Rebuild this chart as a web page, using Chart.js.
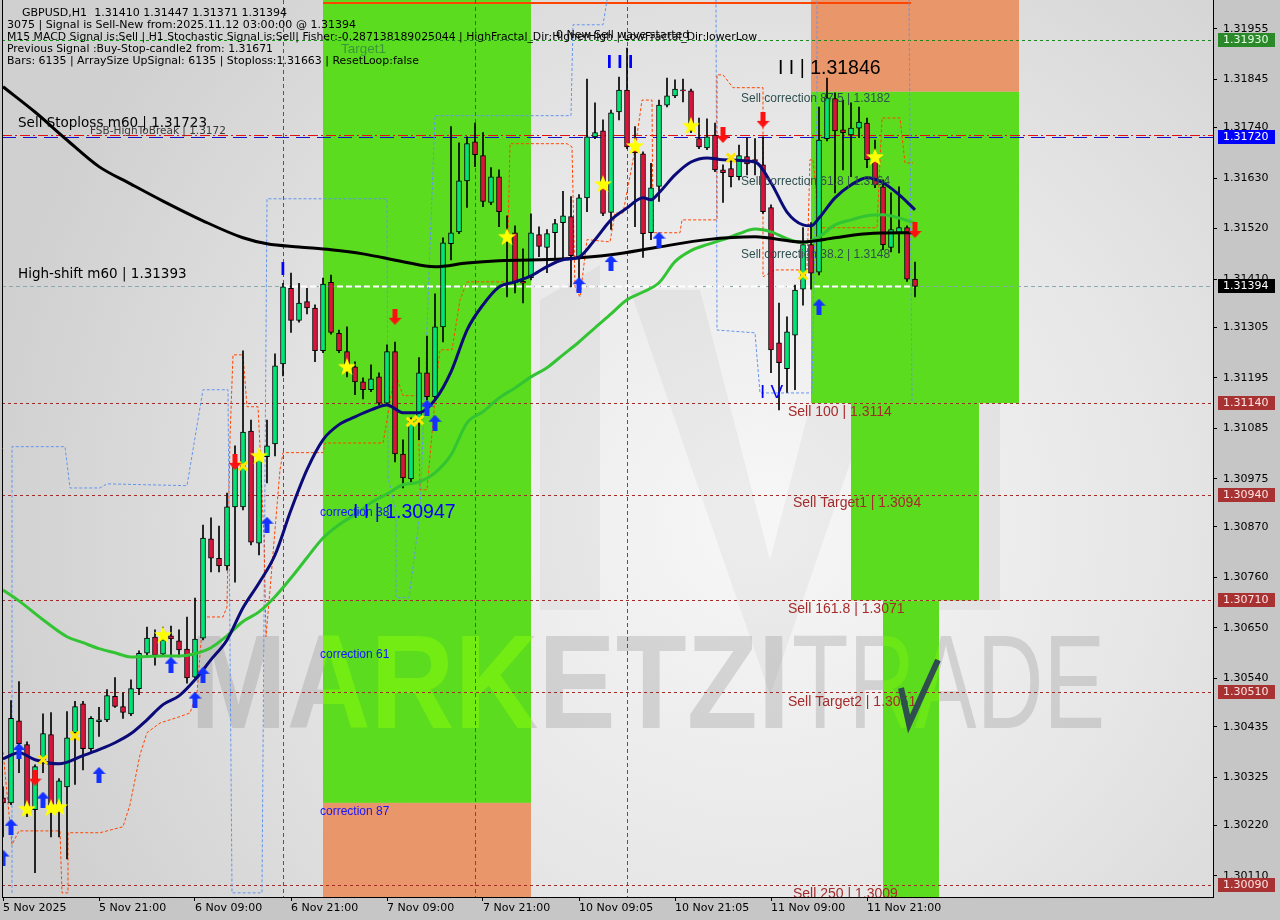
<!DOCTYPE html>
<html lang="en">
<head>
<meta charset="UTF-8">
<title>GBPUSD,H1</title>
<script src="https://cdn.jsdelivr.net/npm/chart.js"></script>
<style>
  html, body { margin: 0; padding: 0; background: #c6c6c6; }
  canvas { display: block; }
</style>
</head>
<body>
<canvas id="chart" width="1280" height="920"></canvas>
<script>
// ---- data ----
const xTickIdx = [0, 12, 24, 36, 48, 60, 72, 84, 96, 108];
const xTickText = ['5 Nov 2025', '5 Nov 21:00', '6 Nov 09:00', '6 Nov 21:00', '7 Nov 09:00',
                   '7 Nov 21:00', '10 Nov 09:05', '10 Nov 21:05', '11 Nov 09:00', '11 Nov 21:00'];
const yTicks = [1.31955, 1.31845, 1.31740, 1.31630, 1.31520, 1.31410, 1.31305, 1.31195, 1.31085,
                1.30975, 1.30870, 1.30760, 1.30650, 1.30540, 1.30435, 1.30325, 1.30220, 1.30110];

const opens = [
  1.30280,1.30269,1.30448,1.30396,1.30254,1.30363,1.30418,1.30261,1.30304,1.30422,
  1.30485,1.30387,1.30446,1.30450,1.30501,1.30479,1.30463,1.30518,1.30595,1.30630,
  1.30593,1.30633,1.30622,1.30604,1.30543,1.30628,1.30844,1.30802,1.30785,1.30914,
  1.30914,1.31079,1.30835,1.31023,1.31051,1.31225,1.31390,1.31320,1.31361,1.31347,
  1.31254,1.31403,1.31292,1.31252,1.31219,1.31186,1.31169,1.31197,1.31140,1.31252,
  1.31029,1.30975,1.31103,1.31206,1.31154,1.31306,1.31487,1.31513,1.31624,1.31709,
  1.31679,1.31577,1.31633,1.31496,1.31511,1.31405,1.31413,1.31507,1.31479,1.31511,
  1.31533,1.31546,1.31459,1.31587,1.31720,1.31733,1.31555,1.31774,1.31822,1.31696,
  1.31683,1.31511,1.31612,1.31789,1.31809,1.31822,1.31820,1.31716,1.31696,1.31724,
  1.31648,1.31651,1.31633,1.31677,1.31670,1.31659,1.31566,1.31271,1.31215,1.31288,
  1.31388,1.31485,1.31425,1.31716,1.31803,1.31735,1.31724,1.31739,1.31750,1.31670,
  1.31611,1.31479,1.31511,1.31522,1.31410];
const highs = [
  1.30304,1.30492,1.30533,1.30402,1.30352,1.30463,1.30466,1.30322,1.30468,1.30490,
  1.30490,1.30457,1.30477,1.30516,1.30542,1.30509,1.30537,1.30600,1.30652,1.30646,
  1.30652,1.30654,1.30646,1.30674,1.30715,1.30874,1.30890,1.30872,1.30944,1.31047,
  1.31254,1.31103,1.31027,1.31103,1.31247,1.31401,1.31423,1.31401,1.31390,1.31354,
  1.31412,1.31419,1.31299,1.31306,1.31230,1.31195,1.31223,1.31206,1.31267,1.31273,
  1.31060,1.31108,1.31239,1.31286,1.31378,1.31500,1.31742,1.31707,1.31720,1.31750,
  1.31729,1.31653,1.31648,1.31548,1.31526,1.31476,1.31552,1.31524,1.31518,1.31540,
  1.31601,1.31590,1.31594,1.31846,1.31794,1.31757,1.31778,1.31850,1.31913,1.31742,
  1.31687,1.31662,1.31800,1.31848,1.31844,1.31846,1.31824,1.31761,1.31759,1.31750,
  1.31659,1.31670,1.31702,1.31718,1.31716,1.31720,1.31572,1.31358,1.31328,1.31397,
  1.31522,1.31533,1.31785,1.31848,1.31816,1.31800,1.31794,1.31785,1.31761,1.31713,
  1.31626,1.31598,1.31611,1.31526,1.31447];
const lows = [
  1.30195,1.30265,1.30335,1.30239,1.30117,1.30335,1.30195,1.30195,1.30147,1.30309,
  1.30341,1.30381,1.30414,1.30446,1.30477,1.30453,1.30459,1.30505,1.30591,1.30569,
  1.30589,1.30587,1.30587,1.30530,1.30541,1.30624,1.30772,1.30772,1.30776,1.30750,
  1.30907,1.30831,1.30809,1.30966,1.31025,1.31199,1.31294,1.31316,1.31334,1.31230,
  1.31250,1.31290,1.31250,1.31197,1.31158,1.31149,1.31165,1.31136,1.31136,1.31012,
  1.30955,1.30962,1.31060,1.31147,1.31147,1.31273,1.31452,1.31509,1.31566,1.31655,
  1.31568,1.31572,1.31524,1.31371,1.31380,1.31358,1.31408,1.31459,1.31424,1.31452,
  1.31452,1.31393,1.31408,1.31557,1.31716,1.31548,1.31518,1.31757,1.31694,1.31524,
  1.31457,1.31496,1.31579,1.31785,1.31805,1.31796,1.31729,1.31694,1.31692,1.31644,
  1.31577,1.31611,1.31626,1.31637,1.31637,1.31553,1.31206,1.31125,1.31163,1.31169,
  1.31353,1.31388,1.31419,1.31711,1.31598,1.31648,1.31633,1.31718,1.31653,1.31609,
  1.31474,1.31469,1.31467,1.31405,1.31371];
const closes = [
  1.30269,1.30453,1.30398,1.30259,1.30348,1.30420,1.30261,1.30317,1.30411,1.30479,
  1.30387,1.30453,1.30450,1.30503,1.30479,1.30466,1.30518,1.30595,1.30628,1.30591,
  1.30624,1.30626,1.30602,1.30541,1.30626,1.30846,1.30802,1.30785,1.30914,1.31001,
  1.31077,1.30837,1.31023,1.31047,1.31221,1.31393,1.31320,1.31358,1.31347,1.31254,
  1.31399,1.31294,1.31254,1.31208,1.31186,1.31169,1.31193,1.31140,1.31252,1.31029,
  1.30977,1.31103,1.31206,1.31154,1.31306,1.31489,1.31511,1.31624,1.31705,1.31681,
  1.31579,1.31633,1.31557,1.31505,1.31402,1.31401,1.31511,1.31481,1.31509,1.31531,
  1.31548,1.31461,1.31587,1.31720,1.31729,1.31553,1.31772,1.31822,1.31698,1.31685,
  1.31509,1.31609,1.31789,1.31809,1.31824,1.31820,1.31733,1.31698,1.31720,1.31648,
  1.31642,1.31633,1.31679,1.31661,1.31668,1.31557,1.31256,1.31228,1.31295,1.31386,
  1.31485,1.31423,1.31713,1.31805,1.31733,1.31729,1.31739,1.31752,1.31670,1.31615,
  1.31485,1.31518,1.31522,1.31410,1.31394];

// moving averages, sampled along the drawn curves
const maSlowIdx = [0,4,8,12,16,20,25,30,33,37,41,45,50,54,58,62,70,76,82,88,94,100,104,108,114];
const maSlow = [1.31829,1.31774,1.31713,1.31655,1.31617,1.31580,1.31537,1.31500,1.31487,1.31480,
  1.31474,1.31465,1.31448,1.31437,1.31445,1.31450,1.31454,1.31463,1.31480,1.31496,1.31502,
  1.31491,1.31500,1.31509,1.31511];
const maFastIdx = [0,2,4,7,10,12,14,16,18,20,22,24,26,28,30,32,34,36,38,40,42,44,46,48,50,52,54,
  56,58,60,62,64,66,68,70,72,74,76,78,80,81,82,84,86,88,90,94,96,98,100,101,102,104,106,108,110,112,114];
const maFast = [1.30365,1.30378,1.30363,1.30354,1.30372,1.30385,1.30400,1.30420,1.30450,1.30483,
  1.30502,1.30537,1.30581,1.30624,1.30694,1.30748,1.30809,1.30907,1.30995,1.31060,1.31093,1.31110,
  1.31125,1.31136,1.31119,1.31119,1.31147,1.31208,1.31299,1.31354,1.31393,1.31404,1.31417,1.31437,
  1.31452,1.31458,1.31496,1.31539,1.31565,1.31587,1.31583,1.31598,1.31637,1.31665,1.31674,1.31670,
  1.31665,1.31620,1.31556,1.31528,1.31526,1.31543,1.31587,1.31615,1.31631,1.31620,1.31594,1.31561];
const maMidIdx = [0,2,5,8,10,12,14,16,20,22,24,26,28,30,32,34,36,38,40,42,44,46,48,50,52,54,56,58,
  60,62,64,66,68,70,72,74,76,78,80,82,84,86,88,90,92,94,96,98,100,102,104,106,108,110,112,114];
const maMid = [1.30733,1.30709,1.30668,1.30631,1.30618,1.30605,1.30596,1.30587,1.30589,1.30589,
  1.30594,1.30607,1.30633,1.30664,1.30685,1.30718,1.30759,1.30803,1.30846,1.30875,1.30897,1.30923,
  1.30942,1.30962,1.30968,1.30988,1.31027,1.31097,1.31121,1.31151,1.31173,1.31197,1.31217,1.31245,
  1.31273,1.31304,1.31334,1.31365,1.31382,1.31402,1.31448,1.31472,1.31485,1.31496,1.31509,1.31519,
  1.31513,1.31498,1.31489,1.31502,1.31528,1.31539,1.31548,1.31550,1.31543,1.31532];

// dashed envelope lines (corner points)
const blueBandIdx = [1.125,1.125,7.75,8.375,12.125,13,23,25,28.125,28.625,32.375,33,48,48.125,49.125,
  49.125,50.75,52.125,54,71,71.25,75,75.625,89.125,89.25,94,94.625,101.125,101.75,101.75,113.25,113.625];
const blueBand = [1.30073,1.31045,1.31045,1.30955,1.30955,1.30964,1.30960,1.31169,1.31169,1.30073,
  1.30073,1.31585,1.31585,1.30979,1.30901,1.30716,1.30716,1.30901,1.31766,1.31766,1.31964,1.31964,
  1.3203,1.3203,1.31299,1.31293,1.31162,1.31162,1.31785,1.3203,1.3203,1.31141];
const orangeBandIdx = [0,1.125,2,7.125,7.375,8.125,8.125,12.125,15,15.875,17.125,18,19.625,22.125,
  23.375,24.25,25,27.5,28,28.375,28.75,30,30.5,31.875,32.125,32.625,32.875,33.375,34.625,35,40,40.25,
  47.5,48,49,50,51.875,52.125,53,54.25,54.625,56.125,57.125,58,63,63.375,70.5,71.125,71.5,72.125,73,
  75.875,76.5,77.5,79,79.875,81.125,81.25,84.625,84.875,89.25,89.25,90,91.25,95,95,96.5,100.5,
  100.875,101.25,102.125,109.25,109.875,112.125,112.75,113.75];
const orangeBand = [1.30380,1.30178,1.30208,1.30208,1.30073,1.30073,1.30204,1.30204,1.30217,1.30265,
  1.30374,1.30422,1.30443,1.30457,1.30465,1.30509,1.30674,1.30674,1.30696,1.31066,1.31245,1.31245,
  1.31132,1.31132,1.31045,1.30842,1.30631,1.30733,1.30995,1.31032,1.31032,1.31053,1.31053,1.31103,
  1.31208,1.31156,1.31156,1.30951,1.30951,1.31197,1.31256,1.31256,1.31365,1.31404,1.31404,1.31705,
  1.31705,1.31698,1.31393,1.31371,1.31496,1.31491,1.31554,1.31554,1.31692,1.31800,1.31800,1.31511,
  1.31511,1.31539,1.31539,1.31855,1.31855,1.31827,1.31827,1.31415,1.31430,1.31430,1.31670,1.31670,
  1.31522,1.31522,1.31761,1.31761,1.31663,1.31663];

// signal markers
const upIdx = [0,1,2,5,12,21,24,25,33,53,54,72,76,82,102];
const upPrice = [1.30150,1.30217,1.30382,1.30276,1.30330,1.30570,1.30494,1.30548,1.30875,1.31130,
  1.31097,1.31397,1.31445,1.31496,1.31350];
const downIdx = [4,29,49,90,95,114];
const downPrice = [1.30324,1.31012,1.31328,1.31724,1.31757,1.31517];
const starIdx = [3,6,7,20,32,43,63,75,79,86,109];
const starPrice = [1.30256,1.30258,1.30260,1.30635,1.31025,1.31219,1.31502,1.31617,1.31700,1.31744,1.31676];
const crossIdx = [5,9,30,51,52,91,100];
const crossPrice = [1.30363,1.30415,1.31003,1.31099,1.31103,1.31674,1.31419];

// levels and boxes
const target1Level = 1.31930, slLevel = 1.31723, fsbLevel = 1.31720, shiftLevel = 1.31394;
const sellLevels = [1.31140, 1.30940, 1.30710, 1.30510, 1.30090];
const magentaIdx = [35, 59, 78];
const zoneFrom = [40, 40, 101, 101, 106, 110];
const zoneTo = [66, 66, 127, 127, 122, 117];
const zoneTop = [1.3203, 1.30269, 1.3203, 1.31818, 1.3114, 1.3071];
const zoneBottom = [1.30269, 1.2999, 1.31818, 1.3114, 1.3071, 1.2999];
const zoneKind = ['g', 'o', 'o', 'g', 'g', 'g'];

// ---- drawing ----
const idx = opens.map((_, i) => i);
const bullish = idx.map(i => closes[i] >= opens[i]);

function sprite(w, h, draw) {
  const c = document.createElement('canvas');
  c.width = w; c.height = h;
  draw(c.getContext('2d'));
  return c;
}
const upImg = sprite(13, 16, g => {
  g.fillStyle = '#1432ff';
  g.beginPath();
  g.moveTo(6.5, 0); g.lineTo(13, 7); g.lineTo(9, 7); g.lineTo(9, 16);
  g.lineTo(4, 16); g.lineTo(4, 7); g.lineTo(0, 7); g.closePath(); g.fill();
});
const downImg = sprite(13, 16, g => {
  g.fillStyle = '#ff1010';
  g.beginPath();
  g.moveTo(6.5, 16); g.lineTo(13, 9); g.lineTo(9, 9); g.lineTo(9, 0);
  g.lineTo(4, 0); g.lineTo(4, 9); g.lineTo(0, 9); g.closePath(); g.fill();
});
const starImg = sprite(20, 20, g => {
  g.fillStyle = '#ffff00';
  g.beginPath();
  for (let k = 0; k < 10; k++) {
    const r = k % 2 ? 3.9 : 9.5;
    const a = -Math.PI / 2 + k * Math.PI / 5;
    g.lineTo(10 + r * Math.cos(a), 10.5 + r * Math.sin(a));
  }
  g.closePath(); g.fill();
});

const pts = (xs, ys) => xs.map((x, k) => ({ x: x, y: ys[k] }));

const FONT = 'DejaVu Sans';

// text labels drawn on the chart: [text, candle index, price, font, colour, align]
const notes = [
  ['Sell Stoploss m60 | 1.31723', 1.875, 1.31750, '13.5px DejaVu Sans', '#000', 'left'],
  ['FSB-HighToBreak | 1.3172', 10.875, 1.31733, '10.5px DejaVu Sans', '#3a3a3a', 'left'],
  ['High-shift m60 | 1.31393', 1.875, 1.31419, '13.5px DejaVu Sans', '#000', 'left'],
  ['Sell correction 87.5 | 1.3182', 92.25, 1.31803, '12px Liberation Sans', '#2f4f4f', 'left'],
  ['Sell correction 61.8 | 1.3164', 92.25, 1.31622, '12px Liberation Sans', '#2f4f4f', 'left'],
  ['Sell correction 38.2 | 1.3148', 92.25, 1.31463, '12px Liberation Sans', '#2f4f4f', 'left'],
  ['I I | 1.31846', 96.875, 1.31868, '19.5px Liberation Sans', '#000', 'left'],
  ['I I I', 77.125, 1.31881, 'bold 19px Liberation Sans', '#0000ff', 'center'],
  ['I', 35, 1.31430, 'bold 19px Liberation Sans', '#0000ff', 'center'],
  ['I V', 94.625, 1.31163, '19px Liberation Sans', '#0000ff', 'left'],
  ['Sell 100 | 1.3114', 98.125, 1.31121, '14px Liberation Sans', '#a52a2a', 'left'],
  ['Sell Target1 | 1.3094', 98.75, 1.30921, '14px Liberation Sans', '#a52a2a', 'left'],
  ['Sell 161.8 | 1.3071', 98.125, 1.30690, '14px Liberation Sans', '#a52a2a', 'left'],
  ['Sell Target2 | 1.3051', 98.125, 1.30489, '14px Liberation Sans', '#a52a2a', 'left'],
  ['Sell 250 | 1.3009', 98.75, 1.30071, '14px Liberation Sans', '#a52a2a', 'left'],
  ['correction 38', 39.625, 1.30901, '12px Liberation Sans', '#1414ff', 'left'],
  ['I I | 1.30947', 43.75, 1.30901, '19.5px Liberation Sans', '#0000ff', 'left'],
  ['correction 61', 39.625, 1.30592, '12px Liberation Sans', '#1414ff', 'left'],
  ['correction 87', 39.625, 1.30250, '12px Liberation Sans', '#1414ff', 'left'],
  ['Target1', 42.25, 1.31911, '13.5px Liberation Sans', '#3a963a', 'left'],
  ['0 New Sell wave started', 69.125, 1.31942, '11px DejaVu Sans', '#000', 'left']
];

const header = [
  ['GBPUSD,H1  1.31410 1.31447 1.31371 1.31394', 22, 13, 265],
  ['3075 | Signal is Sell-New from:2025.11.12 03:00:00 @ 1.31394', 7, 25, 349],
  ['M15 MACD Signal is:Sell | H1 Stochastic Signal is:Sell| Fisher:-0.287138189025044 | HighFractal_Dir:HigherHigh | LowFractal_Dir:lowerLow', 7, 37, 750],
  ['Previous Signal :Buy-Stop-candle2 from: 1.31671', 7, 49, 266],
  ['Bars: 6135 | ArraySize UpSignal: 6135 | Stoploss:1.31663 | ResetLoop:false', 7, 61, 412]
];

const axisBoxes = [
  [target1Level, '#2a8a2a', '#e8ffe8'],
  [fsbLevel, '#0000ff', '#ffffff'],
  [shiftLevel, '#000000', '#ffffff'],
  [sellLevels[0], '#a83232', '#ffe4e4'],
  [sellLevels[1], '#a83232', '#ffe4e4'],
  [sellLevels[2], '#a83232', '#ffe4e4'],
  [sellLevels[3], '#a83232', '#ffe4e4'],
  [sellLevels[4], '#a83232', '#ffe4e4']
];

function hLine(ctx, a, y, color, dash, width) {
  ctx.save();
  ctx.strokeStyle = color; ctx.lineWidth = width || 1; ctx.setLineDash(dash);
  ctx.beginPath(); ctx.moveTo(a.left, Math.round(y) + 0.5); ctx.lineTo(a.right, Math.round(y) + 0.5); ctx.stroke();
  ctx.restore();
}

function watermark(ctx, fillBold, fillThin) {
  ctx.save();
  ctx.textBaseline = 'alphabetic';
  ctx.textAlign = 'left';
  ctx.font = 'bold 133px Liberation Sans';
  let w = ctx.measureText('MARKETZI').width;
  ctx.save(); ctx.translate(190, 728); ctx.scale(600 / w, 1);
  ctx.fillStyle = fillBold; ctx.fillText('MARKETZI', 0, 0); ctx.restore();
  ctx.font = '133px Liberation Sans';
  w = ctx.measureText('TRADE').width;
  ctx.save(); ctx.translate(792, 728); ctx.scale(313 / w, 1);
  ctx.fillStyle = fillThin; ctx.fillText('TRADE', 0, 0); ctx.restore();
  ctx.restore();
}

function logoShape(ctx) {
  ctx.save();
  ctx.fillStyle = 'rgba(0,0,0,0.04)';
  ctx.beginPath();
  ctx.moveTo(540, 300); ctx.lineTo(600, 265); ctx.lineTo(600, 610); ctx.lineTo(540, 610); ctx.closePath();
  ctx.moveTo(630, 290); ctx.lineTo(700, 290); ctx.lineTo(770, 560); ctx.lineTo(840, 290);
  ctx.lineTo(910, 290); ctx.lineTo(770, 695); ctx.closePath();
  ctx.moveTo(935, 290); ctx.lineTo(1000, 255); ctx.lineTo(1000, 610); ctx.lineTo(935, 610); ctx.closePath();
  ctx.fill();
  ctx.restore();
}

const chartPlugin = {
  id: 'mtChart',
  beforeDraw(chart) {
    const { ctx, chartArea: a } = chart;
    ctx.save();
    ctx.fillStyle = '#c6c6c6';
    ctx.fillRect(0, 0, chart.width, chart.height);
    const g = ctx.createRadialGradient(760, 520, 30, 760, 520, 780);
    g.addColorStop(0, '#f6f6f6');
    g.addColorStop(0.5, '#e6e6e6');
    g.addColorStop(1, '#d0d0d0');
    ctx.fillStyle = g;
    ctx.fillRect(a.left, a.top, a.right - a.left, a.bottom - a.top);
    ctx.restore();
  },
  beforeDatasetsDraw(chart) {
    const { ctx, chartArea: a, scales: { x, y } } = chart;
    ctx.save();
    ctx.beginPath(); ctx.rect(a.left, a.top, a.right - a.left, a.bottom - a.top); ctx.clip();

    logoShape(ctx);
    watermark(ctx, 'rgba(110,110,110,0.22)', 'rgba(110,110,110,0.22)');

    // zones
    const rects = [];
    for (let k = 0; k < zoneFrom.length; k++) {
      const x0 = x.getPixelForValue(zoneFrom[k]), x1 = x.getPixelForValue(zoneTo[k]);
      const y0 = y.getPixelForValue(zoneTop[k]), y1 = y.getPixelForValue(zoneBottom[k]);
      ctx.fillStyle = zoneKind[k] === 'g' ? '#5cdc1f' : '#e8966a';
      ctx.fillRect(x0, y0, x1 - x0, y1 - y0);
      if (zoneKind[k] === 'g') rects.push([x0, y0, x1 - x0, y1 - y0]);
    }
    // watermark letters show brighter over the green zones
    ctx.save();
    ctx.beginPath();
    rects.forEach(r => ctx.rect(r[0], r[1], r[2], r[3]));
    ctx.clip();
    watermark(ctx, '#72ec12', '#6be616');
    ctx.restore();

    // top orange line over the zones
    ctx.strokeStyle = '#ff4500'; ctx.lineWidth = 2;
    ctx.beginPath();
    ctx.moveTo(x.getPixelForValue(40), 3); ctx.lineTo(x.getPixelForValue(113.5), 3); ctx.stroke();

    // horizontal levels
    hLine(ctx, a, y.getPixelForValue(target1Level), '#1a8a1a', [3, 3]);
    hLine(ctx, a, y.getPixelForValue(slLevel), '#e01010', [10, 3, 2, 3]);
    hLine(ctx, a, y.getPixelForValue(fsbLevel), '#1010d0', [14, 7]);
    hLine(ctx, a, y.getPixelForValue(shiftLevel), '#8aabab', [4, 3]);
    ctx.save();
    ctx.strokeStyle = '#ffffff'; ctx.setLineDash([6, 3]);
    const ys = Math.round(y.getPixelForValue(shiftLevel)) + 0.5;
    ctx.beginPath(); ctx.moveTo(x.getPixelForValue(35), ys); ctx.lineTo(x.getPixelForValue(114), ys); ctx.stroke();
    ctx.restore();
    sellLevels.forEach(v => hLine(ctx, a, y.getPixelForValue(v), '#a52a2a', [3, 3]));

    // vertical separators
    ctx.strokeStyle = '#c71585'; ctx.lineWidth = 1; ctx.setLineDash([4, 3]);
    magentaIdx.forEach(v => {
      const px = Math.round(x.getPixelForValue(v)) + 0.5;
      ctx.beginPath(); ctx.moveTo(px, a.top); ctx.lineTo(px, a.bottom); ctx.stroke();
    });
    ctx.restore();
  },
  afterDatasetsDraw(chart) {
    const { ctx, chartArea: a, scales: { x, y } } = chart;
    ctx.save();
    ctx.beginPath(); ctx.rect(a.left, a.top, a.right - a.left, a.bottom - a.top); ctx.clip();
    ctx.textBaseline = 'middle';
    notes.forEach(n => {
      ctx.font = n[3]; ctx.fillStyle = n[4]; ctx.textAlign = n[5];
      ctx.fillText(n[0], x.getPixelForValue(n[1]), y.getPixelForValue(n[2]));
    });
    // logo tick mark of the watermark
    ctx.strokeStyle = '#2f4f4f'; ctx.lineWidth = 6; ctx.setLineDash([]);
    ctx.beginPath(); ctx.moveTo(901, 688); ctx.lineTo(909, 724); ctx.lineTo(938, 660); ctx.stroke();
    ctx.restore();
  },
  afterDraw(chart) {
    const { ctx, chartArea: a, scales: { y } } = chart;
    ctx.save();
    // left frame
    ctx.strokeStyle = '#000'; ctx.lineWidth = 1;
    ctx.beginPath(); ctx.moveTo(a.left + 0.5, 0); ctx.lineTo(a.left + 0.5, a.bottom); ctx.stroke();
    // header
    ctx.font = '11px ' + FONT; ctx.fillStyle = '#000'; ctx.textBaseline = 'middle'; ctx.textAlign = 'left';
    header.forEach(h => {
      const w = ctx.measureText(h[0]).width;
      ctx.save(); ctx.translate(h[1], h[2]); ctx.scale(h[3] / w, 1); ctx.fillText(h[0], 0, 0); ctx.restore();
    });
    // price boxes on the axis
    axisBoxes.forEach(b => {
      const py = Math.round(y.getPixelForValue(b[0]));
      ctx.fillStyle = b[1];
      ctx.fillRect(a.right + 5, py - 7, 57, 14);
      ctx.fillStyle = b[2];
      ctx.fillText(b[0].toFixed(5), a.right + 10, py + 0.5);
    });
    ctx.restore();
  }
};

new Chart(document.getElementById('chart'), {
  type: 'bar',
  data: {
    datasets: [
      { type: 'line', data: pts(blueBandIdx, blueBand), borderColor: '#6495ed', borderWidth: 1,
        borderDash: [3, 2], pointRadius: 0, tension: 0, order: 12 },
      { type: 'line', data: pts(orangeBandIdx, orangeBand), borderColor: '#ff4500', borderWidth: 1,
        borderDash: [3, 2], pointRadius: 0, tension: 0, order: 11 },
      { data: idx.map(i => ({ x: i, y: [lows[i], highs[i]] })), backgroundColor: '#000',
        barThickness: 1, grouped: false, order: 10 },
      { data: idx.map(i => ({ x: i, y: [opens[i], closes[i]] })),
        backgroundColor: idx.map(i => bullish[i] ? '#00e676' : '#dc143c'),
        borderColor: '#000', borderWidth: 1, borderSkipped: false, minBarLength: 1,
        barThickness: 5, grouped: false, order: 9 },
      { type: 'line', data: pts(maMidIdx, maMid), borderColor: '#33c433', borderWidth: 3,
        pointRadius: 0, cubicInterpolationMode: 'monotone', order: 5 },
      { type: 'line', data: pts(maSlowIdx, maSlow), borderColor: '#000000', borderWidth: 3,
        pointRadius: 0, cubicInterpolationMode: 'monotone', order: 4 },
      { type: 'line', data: pts(maFastIdx, maFast), borderColor: '#0a0a78', borderWidth: 3,
        pointRadius: 0, cubicInterpolationMode: 'monotone', order: 3 },
      { type: 'scatter', data: pts(upIdx, upPrice), pointStyle: upImg, order: 1 },
      { type: 'scatter', data: pts(downIdx, downPrice), pointStyle: downImg, order: 1 },
      { type: 'scatter', data: pts(starIdx, starPrice), pointStyle: starImg, order: 1 },
      { type: 'scatter', data: pts(crossIdx, crossPrice), pointStyle: 'crossRot', pointRadius: 6,
        pointBorderColor: '#ffe600', pointBorderWidth: 3, order: 1 }
    ]
  },
  options: {
    responsive: false,
    animation: false,
    devicePixelRatio: 1,
    layout: { autoPadding: false, padding: { left: 2, top: 0, right: 0, bottom: 0 } },
    plugins: { legend: { display: false }, tooltip: { enabled: false } },
    scales: {
      x: {
        type: 'linear', min: -0.125, max: 151.25, offset: false,
        afterBuildTicks: s => { s.ticks = xTickIdx.map(v => ({ value: v })); },
        afterFit: s => { s.height = 23; s.paddingLeft = 0; s.paddingRight = 0; },
        ticks: {
          align: 'start', maxRotation: 0, autoSkip: false, padding: 1, color: '#000',
          font: { family: FONT, size: 11 },
          callback: v => { const k = xTickIdx.indexOf(v); return k >= 0 ? xTickText[k] : ''; }
        },
        grid: { drawOnChartArea: false, tickLength: 4, color: '#000', offset: false },
        border: { display: true, color: '#000' }
      },
      y: {
        type: 'linear', position: 'right', min: 1.30064, max: 1.32018,
        afterBuildTicks: s => { s.ticks = yTicks.map(v => ({ value: v })); },
        afterFit: s => { s.width = 67; s.paddingTop = 0; s.paddingBottom = 0; },
        ticks: { color: '#000', padding: 6, font: { family: FONT, size: 11 }, callback: v => v.toFixed(5) },
        grid: { drawOnChartArea: false, tickLength: 4, color: '#000' },
        border: { display: true, color: '#000' }
      }
    }
  },
  plugins: [chartPlugin]
});
</script>
</body>
</html>
